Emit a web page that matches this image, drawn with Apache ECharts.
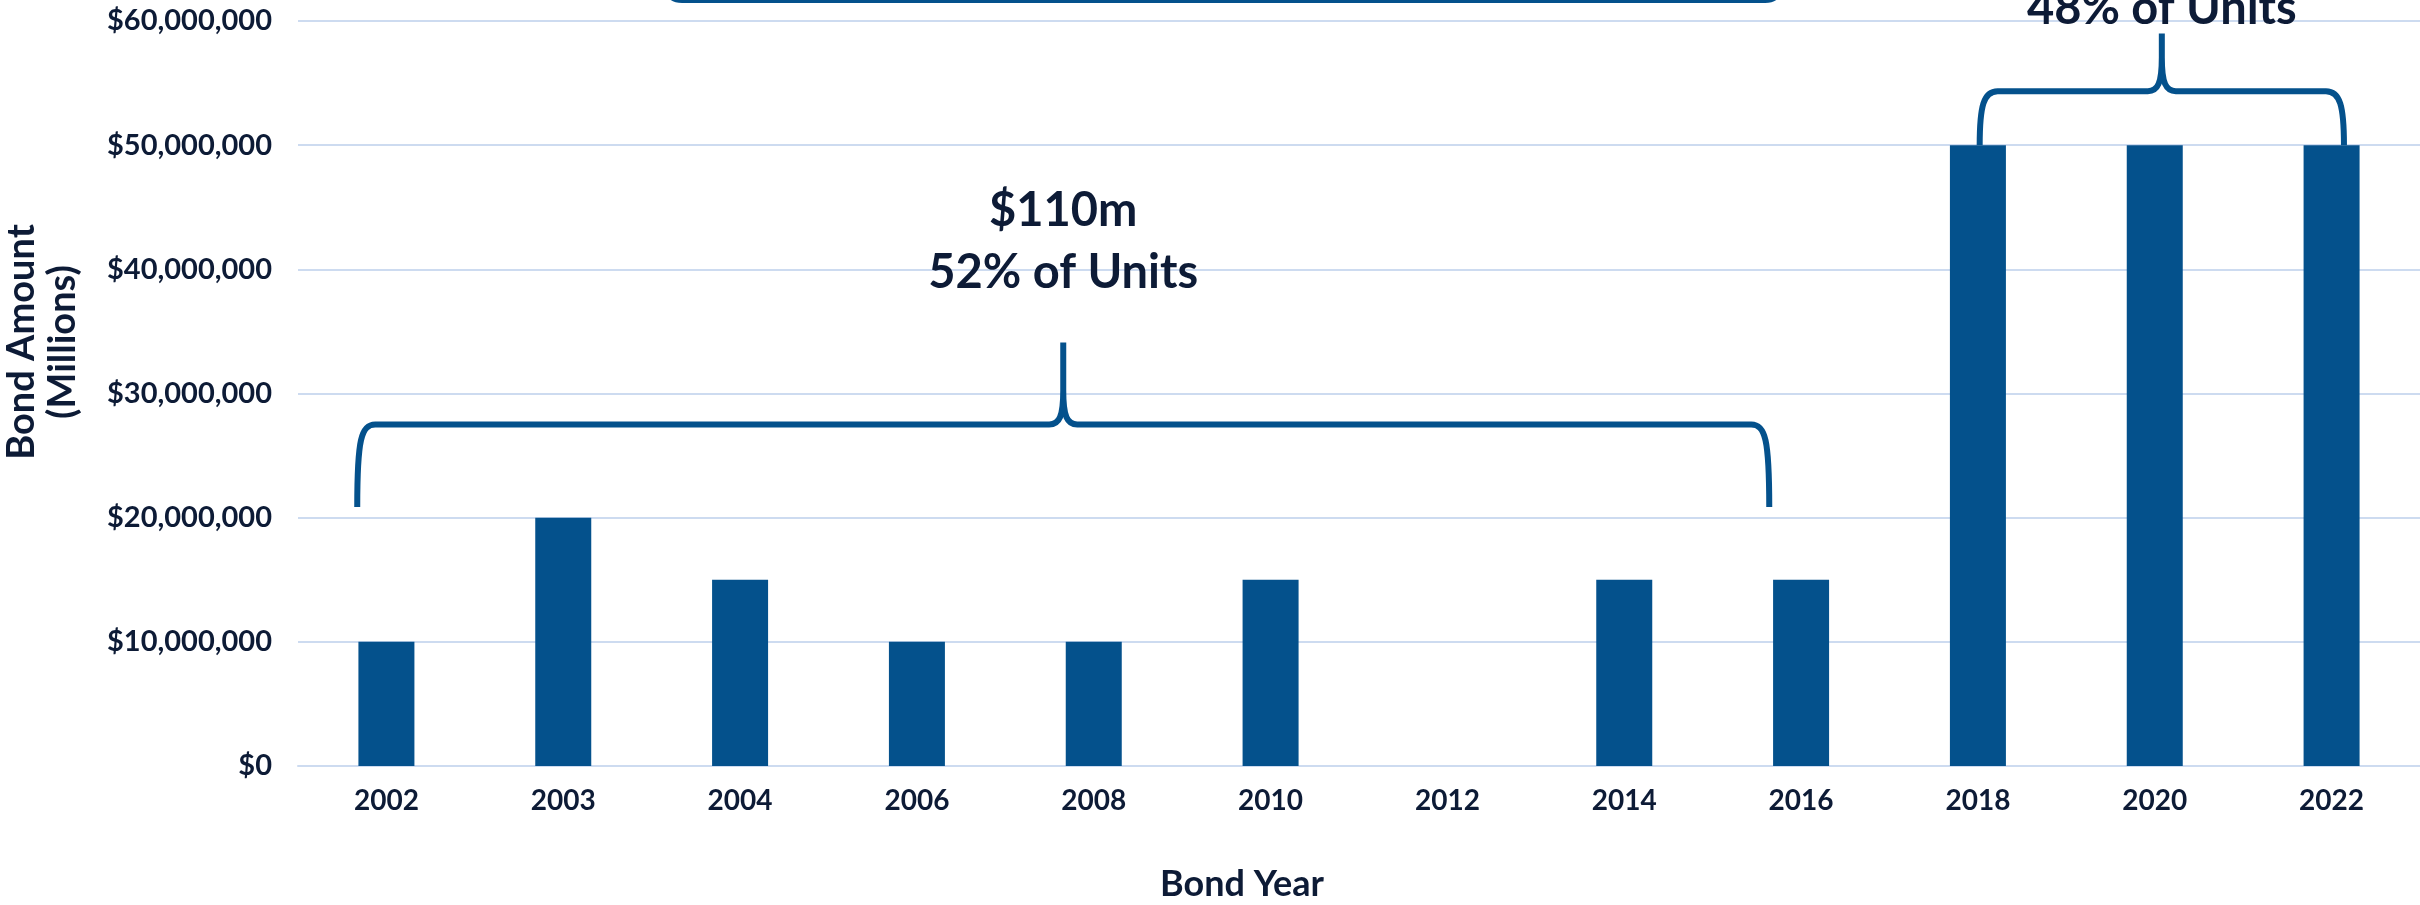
<!DOCTYPE html>
<html>
<head>
<meta charset="utf-8">
<title>Bond Amount by Bond Year</title>
<script src="https://cdn.jsdelivr.net/npm/echarts@6/dist/echarts.min.js"></script>
<style>
  html, body { margin: 0; padding: 0; background: #ffffff; }
  #chart { width: 2420px; height: 905px; }
</style>
</head>
<body>
<div id="chart"></div>
<script>
// Bond issues by year
const bondYears = ['2002', '2003', '2004', '2006', '2008', '2010', '2012', '2014', '2016', '2018', '2020', '2022'];
const bondAmounts = [10000000, 20000000, 15000000, 10000000, 10000000, 15000000, 0, 15000000, 15000000, 50000000, 50000000, 50000000];

// Y axis ticks
const yTickMin = 0;
const yTickMax = 60000000;
const yTickStep = 10000000;

// Group summaries shown above the brackets
const groupLabels = [
  ['$110m', '52% of Units'],
  ['$150m', '48% of Units']
];

const NAVY = '#0d1b36';
const BLUE = '#04518c';
const GRID = '#cddbf0';
const FONT = 'Lato, "Open Sans", sans-serif';

// Bracket geometry: x in category units, y in axis values
const brackets = [
  { kind: 'brace', from: -0.165, to: 7.82, base: 20850000, bar: 27500000, tip: 34100000,
    label: 0, labelY: [44700000, 39700000] },
  { kind: 'brace', from: 9.01, to: 11.07, base: 50000000, bar: 54350000, tip: 59000000,
    label: 1, labelY: [66000000, 61000000] },
  { kind: 'cap', from: 1.593, to: 7.876, bar: 61700000 }
];

function fmtMoney(v) {
  return '$' + Math.round(v).toLocaleString('en-US');
}

function renderBracket(params, api) {
  const b = brackets[params.dataIndex];
  const p0 = api.coord([0, 0]);
  const p1 = api.coord([1, 0]);
  const step = p1[0] - p0[0];
  const X = (i) => p0[0] + i * step;
  const Y = (v) => api.coord([0, v])[1];

  const xL = X(b.from), xR = X(b.to);
  const yH = Y(b.bar);
  const children = [];
  let d;
  if (b.kind === 'brace') {
    const xT = (xL + xR) / 2;
    const yB = Y(b.base), yT = Y(b.tip);
    const r = Math.min(18, (yB - yH) * 0.4);
    d = 'M' + xL + ' ' + yB +
        ' C' + xL + ' ' + (yH + r * 0.8) + ' ' + (xL + 4) + ' ' + yH + ' ' + (xL + r) + ' ' + yH +
        ' L' + (xT - 14) + ' ' + yH +
        ' C' + (xT - 4) + ' ' + yH + ' ' + xT + ' ' + (yH - 8) + ' ' + xT + ' ' + (yH - 34) +
        ' L' + xT + ' ' + yT +
        ' M' + xT + ' ' + (yH - 34) +
        ' C' + xT + ' ' + (yH - 8) + ' ' + (xT + 4) + ' ' + yH + ' ' + (xT + 14) + ' ' + yH +
        ' L' + (xR - r) + ' ' + yH +
        ' C' + (xR - 4) + ' ' + yH + ' ' + xR + ' ' + (yH + r * 0.8) + ' ' + xR + ' ' + yB;
    const lines = groupLabels[b.label];
    lines.forEach((t, k) => {
      children.push({
        type: 'text',
        style: {
          text: t, x: xT, y: Y(b.labelY[k]),
          align: 'center', verticalAlign: 'middle',
          font: 'bold 47px ' + FONT, fill: NAVY
        }
      });
    });
  } else {
    d = 'M' + xL + ' ' + (yH - 14) +
        ' C' + xL + ' ' + (yH - 4) + ' ' + (xL + 4) + ' ' + yH + ' ' + (xL + 14) + ' ' + yH +
        ' L' + (xR - 14) + ' ' + yH +
        ' C' + (xR - 4) + ' ' + yH + ' ' + xR + ' ' + (yH - 4) + ' ' + xR + ' ' + (yH - 14);
  }
  children.unshift({
    type: 'path',
    shape: { pathData: d },
    style: { stroke: BLUE, lineWidth: 6, fill: null, lineCap: 'butt', lineJoin: 'round' }
  });
  return { type: 'group', children: children };
}

const chart = echarts.init(document.getElementById('chart'), null, { renderer: 'canvas' });

chart.setOption({
  backgroundColor: '#ffffff',
  animation: false,
  grid: { left: 298, right: 0, top: 21, bottom: 139, containLabel: false },
  xAxis: {
    type: 'category',
    data: bondYears,
    boundaryGap: true,
    axisLine: { show: true, lineStyle: { color: GRID, width: 2 } },
    axisTick: { show: false },
    axisLabel: { margin: 21, color: NAVY, fontFamily: FONT, fontWeight: 'bold', fontSize: 28 }
  },
  yAxis: {
    type: 'value',
    min: yTickMin,
    max: yTickMax,
    interval: yTickStep,
    axisLine: { show: false },
    axisTick: { show: false },
    splitLine: { show: true, lineStyle: { color: GRID, width: 2 } },
    axisLabel: {
      margin: 26, color: NAVY, fontFamily: FONT, fontWeight: 'bold', fontSize: 29,
      formatter: fmtMoney
    }
  },
  graphic: [
    {
      type: 'text', x: 1242, y: 884,
      style: { text: 'Bond Year', align: 'center', verticalAlign: 'middle',
               font: 'bold 36px ' + FONT, fill: NAVY }
    },
    {
      type: 'text', x: 42, y: 342, rotation: Math.PI / 2,
      style: { text: 'Bond Amount\n(Millions)', align: 'center', verticalAlign: 'middle',
               font: 'bold 38px ' + FONT, lineHeight: 41, fill: NAVY }
    }
  ],
  series: [
    {
      type: 'bar',
      data: bondAmounts,
      barWidth: 56,
      itemStyle: { color: BLUE },
      z: 2
    },
    {
      type: 'custom',
      clip: false,
      silent: true,
      renderItem: renderBracket,
      data: brackets.map(() => [0, 0]),
      z: 3
    }
  ]
});
</script>
</body>
</html>
